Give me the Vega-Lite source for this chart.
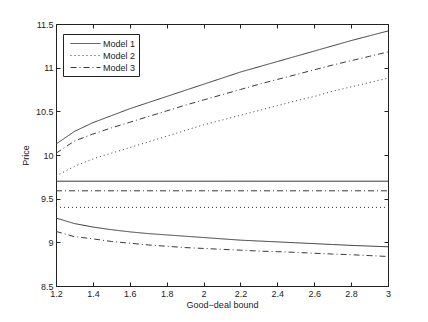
{
  "$schema": "https://vega.github.io/schema/vega-lite/v6.json",
  "width": 332,
  "height": 262,
  "autosize": {"type": "none"},
  "padding": {"left": 56, "top": 24, "right": 40, "bottom": 36},
  "background": "white",
  "config": {
    "font": "Liberation Sans",
    "view": {"stroke": "#222", "strokeWidth": 1},
    "axis": {"grid": false, "domain": false, "tickColor": "#222", "labelColor": "#222", "labelFont": "Liberation Sans", "labelFontSize": 9, "titleFont": "Liberation Sans", "titleFontSize": 9, "titleFontWeight": "normal", "titleColor": "#222", "labelFlush": false, "labelOverlap": false}
  },
  "datasets": {
    "d": [
      {"x": 1.2, "price": 10.125, "model": "Model 1", "curve": "up"},
      {"x": 1.3, "price": 10.27, "model": "Model 1", "curve": "up"},
      {"x": 1.4, "price": 10.37, "model": "Model 1", "curve": "up"},
      {"x": 1.5, "price": 10.45, "model": "Model 1", "curve": "up"},
      {"x": 1.6, "price": 10.53, "model": "Model 1", "curve": "up"},
      {"x": 1.7, "price": 10.6, "model": "Model 1", "curve": "up"},
      {"x": 1.8, "price": 10.67, "model": "Model 1", "curve": "up"},
      {"x": 1.9, "price": 10.74, "model": "Model 1", "curve": "up"},
      {"x": 2.0, "price": 10.81, "model": "Model 1", "curve": "up"},
      {"x": 2.1, "price": 10.88, "model": "Model 1", "curve": "up"},
      {"x": 2.2, "price": 10.95, "model": "Model 1", "curve": "up"},
      {"x": 2.3, "price": 11.01, "model": "Model 1", "curve": "up"},
      {"x": 2.4, "price": 11.07, "model": "Model 1", "curve": "up"},
      {"x": 2.5, "price": 11.13, "model": "Model 1", "curve": "up"},
      {"x": 2.6, "price": 11.19, "model": "Model 1", "curve": "up"},
      {"x": 2.7, "price": 11.25, "model": "Model 1", "curve": "up"},
      {"x": 2.8, "price": 11.31, "model": "Model 1", "curve": "up"},
      {"x": 2.9, "price": 11.365, "model": "Model 1", "curve": "up"},
      {"x": 3.0, "price": 11.42, "model": "Model 1", "curve": "up"},
      {"x": 1.2, "price": 9.76, "model": "Model 2", "curve": "up"},
      {"x": 1.3, "price": 9.87, "model": "Model 2", "curve": "up"},
      {"x": 1.4, "price": 9.955, "model": "Model 2", "curve": "up"},
      {"x": 1.5, "price": 10.02, "model": "Model 2", "curve": "up"},
      {"x": 1.6, "price": 10.085, "model": "Model 2", "curve": "up"},
      {"x": 1.7, "price": 10.15, "model": "Model 2", "curve": "up"},
      {"x": 1.8, "price": 10.215, "model": "Model 2", "curve": "up"},
      {"x": 1.9, "price": 10.28, "model": "Model 2", "curve": "up"},
      {"x": 2.0, "price": 10.345, "model": "Model 2", "curve": "up"},
      {"x": 2.1, "price": 10.4, "model": "Model 2", "curve": "up"},
      {"x": 2.2, "price": 10.455, "model": "Model 2", "curve": "up"},
      {"x": 2.3, "price": 10.51, "model": "Model 2", "curve": "up"},
      {"x": 2.4, "price": 10.565, "model": "Model 2", "curve": "up"},
      {"x": 2.5, "price": 10.62, "model": "Model 2", "curve": "up"},
      {"x": 2.6, "price": 10.67, "model": "Model 2", "curve": "up"},
      {"x": 2.7, "price": 10.73, "model": "Model 2", "curve": "up"},
      {"x": 2.8, "price": 10.78, "model": "Model 2", "curve": "up"},
      {"x": 2.9, "price": 10.83, "model": "Model 2", "curve": "up"},
      {"x": 3.0, "price": 10.88, "model": "Model 2", "curve": "up"},
      {"x": 1.2, "price": 10.02, "model": "Model 3", "curve": "up"},
      {"x": 1.3, "price": 10.16, "model": "Model 3", "curve": "up"},
      {"x": 1.4, "price": 10.24, "model": "Model 3", "curve": "up"},
      {"x": 1.5, "price": 10.31, "model": "Model 3", "curve": "up"},
      {"x": 1.6, "price": 10.375, "model": "Model 3", "curve": "up"},
      {"x": 1.7, "price": 10.44, "model": "Model 3", "curve": "up"},
      {"x": 1.8, "price": 10.505, "model": "Model 3", "curve": "up"},
      {"x": 1.9, "price": 10.57, "model": "Model 3", "curve": "up"},
      {"x": 2.0, "price": 10.63, "model": "Model 3", "curve": "up"},
      {"x": 2.1, "price": 10.69, "model": "Model 3", "curve": "up"},
      {"x": 2.2, "price": 10.75, "model": "Model 3", "curve": "up"},
      {"x": 2.3, "price": 10.81, "model": "Model 3", "curve": "up"},
      {"x": 2.4, "price": 10.865, "model": "Model 3", "curve": "up"},
      {"x": 2.5, "price": 10.92, "model": "Model 3", "curve": "up"},
      {"x": 2.6, "price": 10.975, "model": "Model 3", "curve": "up"},
      {"x": 2.7, "price": 11.03, "model": "Model 3", "curve": "up"},
      {"x": 2.8, "price": 11.08, "model": "Model 3", "curve": "up"},
      {"x": 2.9, "price": 11.13, "model": "Model 3", "curve": "up"},
      {"x": 3.0, "price": 11.18, "model": "Model 3", "curve": "up"},
      {"x": 1.2, "price": 9.7, "model": "Model 1", "curve": "flat"},
      {"x": 3.0, "price": 9.7, "model": "Model 1", "curve": "flat"},
      {"x": 1.2, "price": 9.4, "model": "Model 2", "curve": "flat"},
      {"x": 3.0, "price": 9.4, "model": "Model 2", "curve": "flat"},
      {"x": 1.2, "price": 9.59, "model": "Model 3", "curve": "flat"},
      {"x": 3.0, "price": 9.59, "model": "Model 3", "curve": "flat"},
      {"x": 1.2, "price": 9.278, "model": "Model 1", "curve": "low"},
      {"x": 1.3, "price": 9.215, "model": "Model 1", "curve": "low"},
      {"x": 1.4, "price": 9.175, "model": "Model 1", "curve": "low"},
      {"x": 1.5, "price": 9.145, "model": "Model 1", "curve": "low"},
      {"x": 1.6, "price": 9.12, "model": "Model 1", "curve": "low"},
      {"x": 1.7, "price": 9.1, "model": "Model 1", "curve": "low"},
      {"x": 1.8, "price": 9.085, "model": "Model 1", "curve": "low"},
      {"x": 1.9, "price": 9.07, "model": "Model 1", "curve": "low"},
      {"x": 2.0, "price": 9.055, "model": "Model 1", "curve": "low"},
      {"x": 2.1, "price": 9.04, "model": "Model 1", "curve": "low"},
      {"x": 2.2, "price": 9.025, "model": "Model 1", "curve": "low"},
      {"x": 2.3, "price": 9.015, "model": "Model 1", "curve": "low"},
      {"x": 2.4, "price": 9.005, "model": "Model 1", "curve": "low"},
      {"x": 2.5, "price": 8.995, "model": "Model 1", "curve": "low"},
      {"x": 2.6, "price": 8.985, "model": "Model 1", "curve": "low"},
      {"x": 2.7, "price": 8.975, "model": "Model 1", "curve": "low"},
      {"x": 2.8, "price": 8.965, "model": "Model 1", "curve": "low"},
      {"x": 2.9, "price": 8.957, "model": "Model 1", "curve": "low"},
      {"x": 3.0, "price": 8.949, "model": "Model 1", "curve": "low"},
      {"x": 1.2, "price": 9.125, "model": "Model 3", "curve": "low"},
      {"x": 1.3, "price": 9.065, "model": "Model 3", "curve": "low"},
      {"x": 1.4, "price": 9.04, "model": "Model 3", "curve": "low"},
      {"x": 1.5, "price": 9.01, "model": "Model 3", "curve": "low"},
      {"x": 1.6, "price": 8.99, "model": "Model 3", "curve": "low"},
      {"x": 1.7, "price": 8.97, "model": "Model 3", "curve": "low"},
      {"x": 1.8, "price": 8.955, "model": "Model 3", "curve": "low"},
      {"x": 1.9, "price": 8.94, "model": "Model 3", "curve": "low"},
      {"x": 2.0, "price": 8.93, "model": "Model 3", "curve": "low"},
      {"x": 2.1, "price": 8.92, "model": "Model 3", "curve": "low"},
      {"x": 2.2, "price": 8.91, "model": "Model 3", "curve": "low"},
      {"x": 2.3, "price": 8.9, "model": "Model 3", "curve": "low"},
      {"x": 2.4, "price": 8.893, "model": "Model 3", "curve": "low"},
      {"x": 2.5, "price": 8.885, "model": "Model 3", "curve": "low"},
      {"x": 2.6, "price": 8.875, "model": "Model 3", "curve": "low"},
      {"x": 2.7, "price": 8.866, "model": "Model 3", "curve": "low"},
      {"x": 2.8, "price": 8.858, "model": "Model 3", "curve": "low"},
      {"x": 2.9, "price": 8.848, "model": "Model 3", "curve": "low"},
      {"x": 3.0, "price": 8.838, "model": "Model 3", "curve": "low"}
    ]
  },
  "data": {"name": "d"},
  "layer": [
    {
      "mark": {"type": "point", "opacity": 0},
      "encoding": {
        "x": {"field": "x", "type": "quantitative", "scale": {"domain": [1.2, 3], "nice": false, "zero": false},
          "axis": {"orient": "top", "labels": false, "title": null, "values": [1.2, 1.4, 1.6, 1.8, 2, 2.2, 2.4, 2.6, 2.8, 3], "tickSize": -4}},
        "y": {"field": "price", "type": "quantitative", "scale": {"domain": [8.5, 11.5], "nice": false, "zero": false},
          "axis": {"orient": "right", "labels": false, "title": null, "values": [8.5, 9, 9.5, 10, 10.5, 11, 11.5], "tickSize": -4}}
      }
    },
    {
      "mark": {"type": "line", "color": "#3a3a3a", "strokeWidth": 1},
      "encoding": {
        "x": {"field": "x", "type": "quantitative", "scale": {"domain": [1.2, 3], "nice": false, "zero": false},
          "axis": {"orient": "bottom", "title": "Good−deal bound", "values": [1.2, 1.4, 1.6, 1.8, 2, 2.2, 2.4, 2.6, 2.8, 3], "format": "~g", "tickSize": -4, "labelPadding": 7, "titlePadding": 2}},
        "y": {"field": "price", "type": "quantitative", "scale": {"domain": [8.5, 11.5], "nice": false, "zero": false},
          "axis": {"orient": "left", "title": "Price", "values": [8.5, 9, 9.5, 10, 10.5, 11, 11.5], "format": "~g", "tickSize": -4, "labelPadding": 7, "titlePadding": 5}},
        "strokeDash": {"field": "model", "type": "nominal",
          "scale": {"domain": ["Model 1", "Model 2", "Model 3"], "range": [[1, 0], [1, 3], [6, 3, 1, 3]]},
          "legend": {"title": null, "orient": "none", "legendX": 7, "legendY": 10, "strokeColor": "#222", "fillColor": "white", "padding": 3, "symbolType": "M-2.5,0H2.5", "symbolSize": 144, "symbolOffset": 13, "symbolStrokeWidth": 1, "symbolStrokeColor": "#3a3a3a", "symbolFillColor": "transparent", "labelOffset": 11, "labelFontSize": 9, "labelColor": "#222", "rowPadding": 0, "cornerRadius": 0}},
        "detail": {"field": "curve", "type": "nominal"}
      }
    }
  ]
}
